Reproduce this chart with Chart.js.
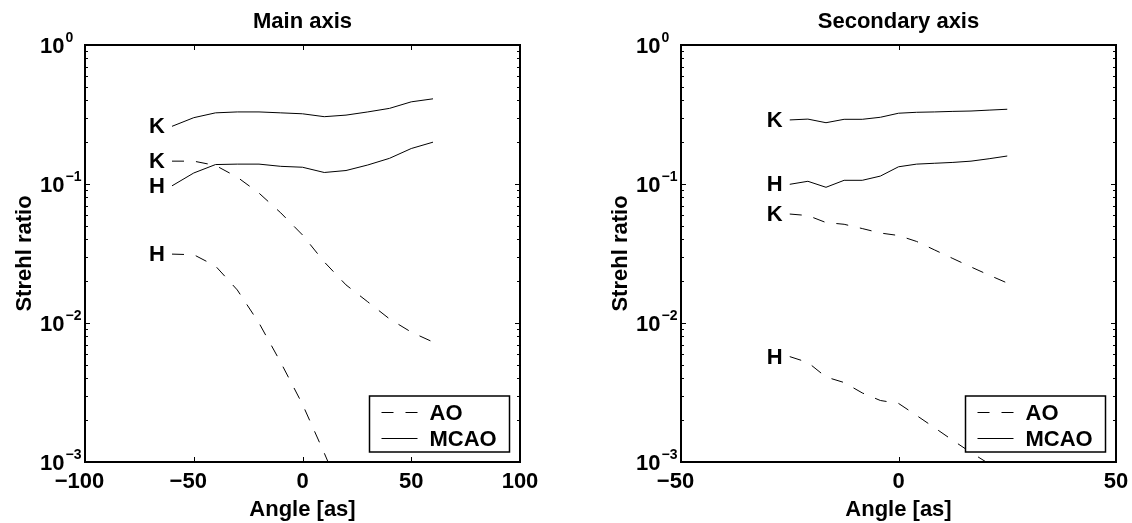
<!DOCTYPE html>
<html>
<head>
<meta charset="utf-8">
<script src="https://cdn.jsdelivr.net/npm/chart.js@4.4.0/dist/chart.umd.min.js"></script>
<style>
  html, body { margin: 0; padding: 0; background: #fff; }
  #wrap { position: relative; width: 1132px; height: 523px; }
  canvas { position: absolute; top: 0; }
  #mainChart { left: 0; }
  #secChart { left: 566px; }
</style>
</head>
<body>
<div id="wrap">
  <canvas id="mainChart" width="566" height="523"></canvas>
  <canvas id="secChart" width="566" height="523"></canvas>
</div>
<script>
// Main axis: angle [as] and Strehl ratio
const mainAngles = [-60, -50, -40, -30, -20, -10, 0, 10, 20, 30, 40, 50, 60];
const mainMcaoK = [0.26, 0.30, 0.325, 0.33, 0.33, 0.325, 0.32, 0.305, 0.313, 0.33, 0.35, 0.39, 0.41];
const mainMcaoH = [0.097, 0.12, 0.138, 0.139, 0.139, 0.134, 0.132, 0.121, 0.125, 0.137, 0.153, 0.18, 0.2];
const mainAoK = [0.146, 0.146, 0.136, 0.112, 0.086, 0.062, 0.043, 0.0275, 0.0188, 0.0142, 0.0107, 0.0086, 0.0073];
const mainAoH = [0.0313, 0.031, 0.0257, 0.0173, 0.0100, 0.0052, 0.0026, 0.00116, 0.0005, null, null, null, null];

// Secondary axis
const secAngles = [-25, -20.83, -16.67, -12.5, -8.33, -4.17, 0, 4.17, 8.33, 12.5, 16.67, 20.83, 25];
const secMcaoK = [0.289, 0.293, 0.276, 0.292, 0.292, 0.302, 0.323, 0.328, 0.330, 0.333, 0.335, 0.34, 0.345];
const secMcaoH = [0.0995, 0.1046, 0.0947, 0.1063, 0.1063, 0.114, 0.133, 0.139, 0.141, 0.143, 0.146, 0.152, 0.159];
const secAoK = [0.0608, 0.0593, 0.0528, 0.0513, 0.0478, 0.0444, 0.0426, 0.0386, 0.0335, 0.0291, 0.0253, 0.0221, 0.0194];
const secAoH = [0.00573, 0.0052, 0.00409, 0.00373, 0.00314, 0.00277, 0.00264, 0.00216, 0.00176, 0.00143, 0.00117, 0.00097, 0.0008];

const yPowers = [0, -1, -2, -3];
const legendItems = [['AO', true], ['MCAO', false]];

const FONT = "'Liberation Sans', Arial, Helvetica, sans-serif";
const FS = 22;
Chart.defaults.font.family = FONT;
Chart.defaults.font.weight = 'bold';
Chart.defaults.color = '#000';

function series(label, band, xs, ys, dashed) {
    return {
        label, band,
        data: xs.map((x, i) => ({ x: x, y: ys[i] })),
        borderColor: '#000',
        borderWidth: 1,
        borderDash: dashed ? [12, 12] : [],
        pointRadius: 0,
        tension: 0
    };
}

function seg(ctx, x1, y1, x2, y2) {
    ctx.beginPath();
    ctx.moveTo(x1, y1);
    ctx.lineTo(x2, y2);
    ctx.stroke();
}

// frame, inward ticks, 10^n labels, curve tags and legend box (matlab look)
const framePlugin = {
    id: 'frame',
    afterDraw(chart, args, opts) {
        const { ctx, chartArea: a, scales: { x, y } } = chart;
        ctx.save();
        ctx.strokeStyle = '#000';
        ctx.fillStyle = '#000';

        // title
        ctx.font = `bold ${FS}px ${FONT}`;
        ctx.textAlign = 'center';
        ctx.textBaseline = 'middle';
        ctx.fillText(opts.title, (a.left + a.right) / 2, 22);

        // x tick marks top and bottom
        ctx.lineWidth = 1;
        x.ticks.forEach(t => {
            const px = Math.round(x.getPixelForValue(t.value)) + 0.5;
            seg(ctx, px, a.bottom, px, a.bottom - 5);
            seg(ctx, px, a.top, px, a.top + 5);
        });

        // y tick marks, major + minor
        for (let e = -3; e <= 0; e++) {
            for (let m = 1; m <= (e === 0 ? 1 : 9); m++) {
                const py = Math.round(y.getPixelForValue(m * Math.pow(10, e))) + 0.5;
                const len = m === 1 ? 5 : 3;
                seg(ctx, a.left, py, a.left + len, py);
                seg(ctx, a.right, py, a.right - len, py);
            }
        }

        // y labels as 10 with raised exponent
        yPowers.forEach(p => {
            const py = y.getPixelForValue(Math.pow(10, p));
            const lx = a.left - 45;
            ctx.textAlign = 'left';
            ctx.textBaseline = 'middle';
            ctx.font = `bold ${FS}px ${FONT}`;
            ctx.fillText('10', lx, py + 2);
            const w = ctx.measureText('10').width;
            ctx.font = `bold 14px ${FONT}`;
            ctx.textBaseline = 'alphabetic';
            ctx.fillText(p === 0 ? '0' : '\u2212' + (-p), lx + w + 1, py - 3);
        });

        // box
        ctx.lineWidth = 2;
        ctx.strokeRect(a.left, a.top, a.right - a.left, a.bottom - a.top);

        // K / H tags at the start of each curve
        ctx.font = `bold ${FS}px ${FONT}`;
        ctx.textAlign = 'right';
        ctx.textBaseline = 'middle';
        chart.data.datasets.forEach((ds, i) => {
            const p0 = chart.getDatasetMeta(i).data[0];
            ctx.fillText(ds.band, p0.x - 7, p0.y + 1);
        });

        // legend
        const bw = 140, bh = 56;
        const bx = a.right - 10.5 - bw, by = a.bottom - 10 - bh;
        ctx.fillStyle = '#fff';
        ctx.fillRect(bx, by, bw, bh);
        ctx.fillStyle = '#000';
        ctx.lineWidth = 1.5;
        ctx.strokeRect(bx, by, bw, bh);
        ctx.lineWidth = 1;
        ctx.textAlign = 'left';
        legendItems.forEach(([name, dashed], i) => {
            const ly = Math.round(by + 15.7 + i * 26.3) + 0.5;
            ctx.setLineDash(dashed ? [12, 12] : []);
            seg(ctx, bx + 12, ly, bx + 48, ly);
            ctx.setLineDash([]);
            ctx.fillText(name, bx + 60, ly + 1);
        });
        ctx.restore();
    }
};

function minusLabel(v) {
    return v < 0 ? '\u2212' + (-v) + '\u2002' : String(v);
}

function makeChart(id, title, xMin, xMax, yWidth, padRight, yTitlePad, datasets) {
    return new Chart(document.getElementById(id), {
        type: 'line',
        data: { datasets },
        options: {
            responsive: false,
            animation: false,
            layout: { padding: { left: 0, right: padRight, top: 45, bottom: 0 } },
            plugins: {
                legend: { display: false },
                tooltip: { enabled: false },
                frame: { title: title }
            },
            scales: {
                x: {
                    type: 'linear',
                    min: xMin, max: xMax,
                    grid: { display: false, drawTicks: false },
                    border: { display: false },
                    ticks: {
                        stepSize: 50,
                        padding: 7,
                        maxRotation: 0,
                        font: { size: FS, weight: 'bold' },
                        callback: v => minusLabel(v)
                    },
                    title: { display: true, text: 'Angle [as]', font: { size: FS, weight: 'bold' }, padding: { top: 0, bottom: 0 } },
                    afterFit: s => { s.height = 61; s.paddingLeft = 0; s.paddingRight = 0; }
                },
                y: {
                    type: 'logarithmic',
                    min: 0.001, max: 1,
                    grid: { display: false, drawTicks: false },
                    border: { display: false },
                    ticks: { display: false },
                    title: { display: true, text: 'Strehl ratio', font: { size: FS, weight: 'bold' }, padding: { top: yTitlePad, bottom: 0 } },
                    afterFit: s => { s.width = yWidth; s.paddingTop = 0; s.paddingBottom = 0; }
                }
            }
        },
        plugins: [framePlugin]
    });
}

makeChart('mainChart', 'Main axis', -100, 100, 85, 46, 12, [
    series('MCAO K', 'K', mainAngles, mainMcaoK, false),
    series('MCAO H', 'H', mainAngles, mainMcaoH, false),
    series('AO K', 'K', mainAngles, mainAoK, true),
    series('AO H', 'H', mainAngles, mainAoH, true)
]);

makeChart('secChart', 'Secondary axis', -50, 50, 115, 16, 42, [
    series('MCAO K', 'K', secAngles, secMcaoK, false),
    series('MCAO H', 'H', secAngles, secMcaoH, false),
    series('AO K', 'K', secAngles, secAoK, true),
    series('AO H', 'H', secAngles, secAoH, true)
]);
</script>
</body>
</html>
